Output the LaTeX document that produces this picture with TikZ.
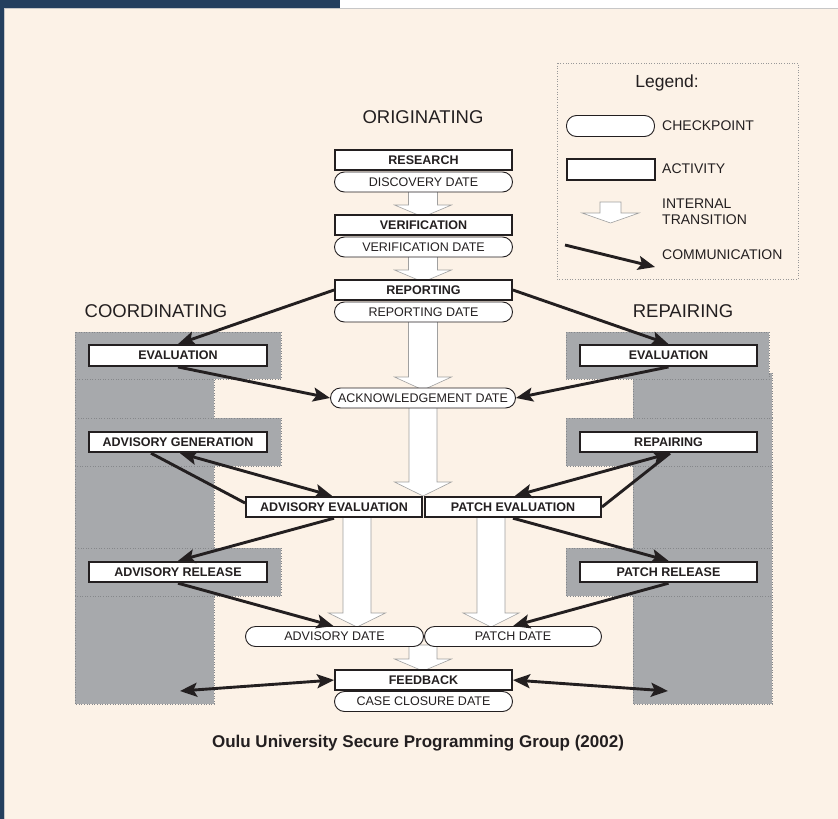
\documentclass[tikz,border=0pt]{standalone}
\usepackage{fontspec}
\setmainfont{Liberation Sans}
\usetikzlibrary{arrows.meta,calc}
\definecolor{navy}{HTML}{243F5E}
\definecolor{cream}{HTML}{FCF2E7}
\definecolor{blockgray}{HTML}{A7A9AC}
\definecolor{dotgray}{HTML}{85878A}
\definecolor{ink}{HTML}{231F20}
\definecolor{arrgray}{HTML}{A0A0A0}
\newcommand\itrans[6]{%
  \filldraw[fill=white, draw=arrgray, line width=0.6pt]
    (#1-#2,#4) -- (#1-#2,#5) -- (#1-#3,#5) -- (#1,#6) -- (#1+#3,#5) -- (#1+#2,#5) -- (#1+#2,#4) -- cycle;}
\begin{document}
\begin{tikzpicture}[x=1pt,y=-1pt,
  actbox/.style={draw=ink, line width=1.9pt, fill=white, font=\fontsize{12.5}{14}\selectfont\bfseries, text=ink, inner sep=0pt, minimum width=177pt, minimum height=19.5pt},
  chkpt/.style={draw=ink, line width=0.9pt, fill=white, rounded corners=10pt, font=\fontsize{12.5}{14}\selectfont, text=ink, inner sep=0pt, minimum width=178pt, minimum height=20pt},
  tip/.style={},
  comm/.style={draw=ink, line width=2.9pt, -{Stealth[length=17pt,width=14pt,inset=3.5pt]}},
  commboth/.style={draw=ink, line width=2.9pt, {Stealth[length=17pt,width=14pt,inset=3.5pt]}-{Stealth[length=17pt,width=14pt,inset=3.5pt]}},
  commplain/.style={draw=ink, line width=2.9pt},
  heading/.style={font=\fontsize{18.5}{22}\selectfont, text=ink},
  legtext/.style={font=\fontsize{14}{16}\selectfont, text=ink, anchor=west, align=left, inner sep=0pt},
  block/.style={fill=blockgray, draw=dotgray, dotted, line width=0.6pt}
]
\useasboundingbox (0,0) rectangle (838,819);
% background
\fill[cream] (0,0) rectangle (838,819);
\fill[white] (340,0) rectangle (838,8);
\fill[navy] (0,0) rectangle (340,8);
\fill[navy] (0,0) rectangle (4,819);
\draw[color=black!22, line width=0.8pt] (4.4,819) -- (4.4,8.4) -- (838,8.4);

% gray blocks, left
\path[block] (75,332) rectangle (281,379);
\path[block] (75,379) rectangle (214,418);
\path[block] (75,418) rectangle (281,466);
\path[block] (75,466) rectangle (214,548);
\path[block] (75,548) rectangle (281,596);
\path[block] (75,596) rectangle (214,704);
% gray blocks, right
\path[block] (633,373) rectangle (772,418);
\path[block] (566,332) rectangle (769,379);
\path[block] (566,418) rectangle (772,466);
\path[block] (633,466) rectangle (772,548);
\path[block] (566,548) rectangle (772,596);
\path[block] (633,596) rectangle (772,704);

% legend
\draw[draw=black!40, dotted, line width=0.6pt] (557,63) rectangle (798,279);
\node[heading, font=\fontsize{17.5}{20}\selectfont] (legtitle) at (667,83) {Legend:};
\node[chkpt, minimum width=88pt, minimum height=21pt] (legchk) at (610.5,126) {};
\node[legtext] (legchktxt) at (662,126) {CHECKPOINT};
\node[actbox, minimum width=88pt, minimum height=21pt] (legact) at (611,169.5) {};
\node[legtext] (legacttxt) at (662,169) {ACTIVITY};
\itrans{610.5}{10.5}{28.5}{202}{213}{223}
\node[legtext, font=\fontsize{14}{16}\selectfont] (legtrtxt) at (662,212) {INTERNAL\\TRANSITION};
\coordinate (legcA) at (565,245);
\coordinate (legcB) at (655,267);
\draw[comm] (legcA) -- (legcB);
\node[legtext] (legcomtxt) at (662,255) {COMMUNICATION};

% headings
\node[heading] (horig) at (423,117) {ORIGINATING};
\node[heading] (hcoord) at (156,311) {COORDINATING};
\node[heading] (hrep) at (683,311) {REPAIRING};

% internal transitions (big arrows)
\itrans{423}{14.5}{28.5}{190}{205}{217}
\itrans{423}{14.5}{28.5}{255}{270}{282}
\itrans{423}{14.5}{28.5}{320}{377}{390}
\itrans{423}{14}{28.5}{407}{482}{496}
\itrans{357}{14}{28.5}{516}{613}{627}
\itrans{491}{14}{28}{516}{613}{627}
\itrans{423}{14}{28.5}{645}{659}{671}

% center column
\node[actbox] (research) at (423.5,160) {RESEARCH};
\node[chkpt] (discdate) at (423.5,182) {DISCOVERY DATE};
\node[actbox] (verif) at (423.5,225) {VERIFICATION};
\node[chkpt] (verifdate) at (423.5,247) {VERIFICATION DATE};
\node[actbox] (report) at (423.5,290) {REPORTING};
\node[chkpt] (repdate) at (423.5,312) {REPORTING DATE};
\node[chkpt, minimum width=185pt] (ack) at (423,398) {ACKNOWLEDGEMENT DATE};
\node[actbox, minimum width=176pt, minimum height=20.5pt] (adveval) at (334,507) {ADVISORY EVALUATION};
\node[actbox, minimum width=176pt, minimum height=20.5pt] (pateval) at (513,507) {PATCH EVALUATION};
\node[chkpt, minimum width=178pt] (advdate) at (334.5,636.5) {ADVISORY DATE};
\node[chkpt, minimum width=177pt] (patdate) at (513,636.5) {PATCH DATE};
\node[actbox, minimum height=20pt] (feedback) at (423.5,680) {FEEDBACK};
\node[chkpt] (closure) at (423.5,701.5) {CASE CLOSURE DATE};

% left column
\node[actbox, minimum width=178pt, minimum height=21pt] (evalL) at (178,355.5) {EVALUATION};
\node[actbox, minimum width=178pt, minimum height=20.5pt] (advgen) at (178,442) {ADVISORY GENERATION};
\node[actbox, minimum width=178pt, minimum height=20.5pt] (advrel) at (178,572) {ADVISORY RELEASE};
% right column
\node[actbox, minimum width=177pt, minimum height=21pt] (evalR) at (668.5,355.5) {EVALUATION};
\node[actbox, minimum width=177pt, minimum height=20.5pt] (repair) at (668.5,442) {REPAIRING};
\node[actbox, minimum width=177pt, minimum height=20.5pt] (patrel) at (668.5,572) {PATCH RELEASE};

% communications
\draw[comm] (report.west) -- (evalL.north);
\draw[comm] (report.east) -- (evalR.north);
\draw[comm] (evalL.south) -- (ack.west);
\draw[comm] (evalR.south) -- (ack.east);
\draw[commplain] ([xshift=-27pt]advgen.south) -- ([yshift=4pt]adveval.west);
\draw[commboth] ([xshift=2pt]advgen.south) -- ([xshift=-2pt]adveval.north);
\draw[comm] (adveval.south) -- (advrel.north);
\draw[comm] (advrel.south) -- ([xshift=-1pt]advdate.north);
\draw[comm] (pateval.south) -- (patrel.north);
\draw[comm] (patrel.south) -- (patdate.north);
\draw[commboth] ([xshift=1.5pt]repair.south) -- ([xshift=2pt]pateval.north);
\draw[commplain] (pateval.east) -- ([xshift=1.5pt]repair.south);
\coordinate (fbL) at (180,691);
\coordinate (fbR) at (668,691);
\draw[commboth] (feedback.west) -- (fbL);
\draw[commboth] (feedback.east) -- (fbR);

% caption
\node[font=\fontsize{17}{20}\selectfont\bfseries, text=ink] (caption) at (418,743) {Oulu University Secure Programming Group (2002)};
\end{tikzpicture}
\end{document}
